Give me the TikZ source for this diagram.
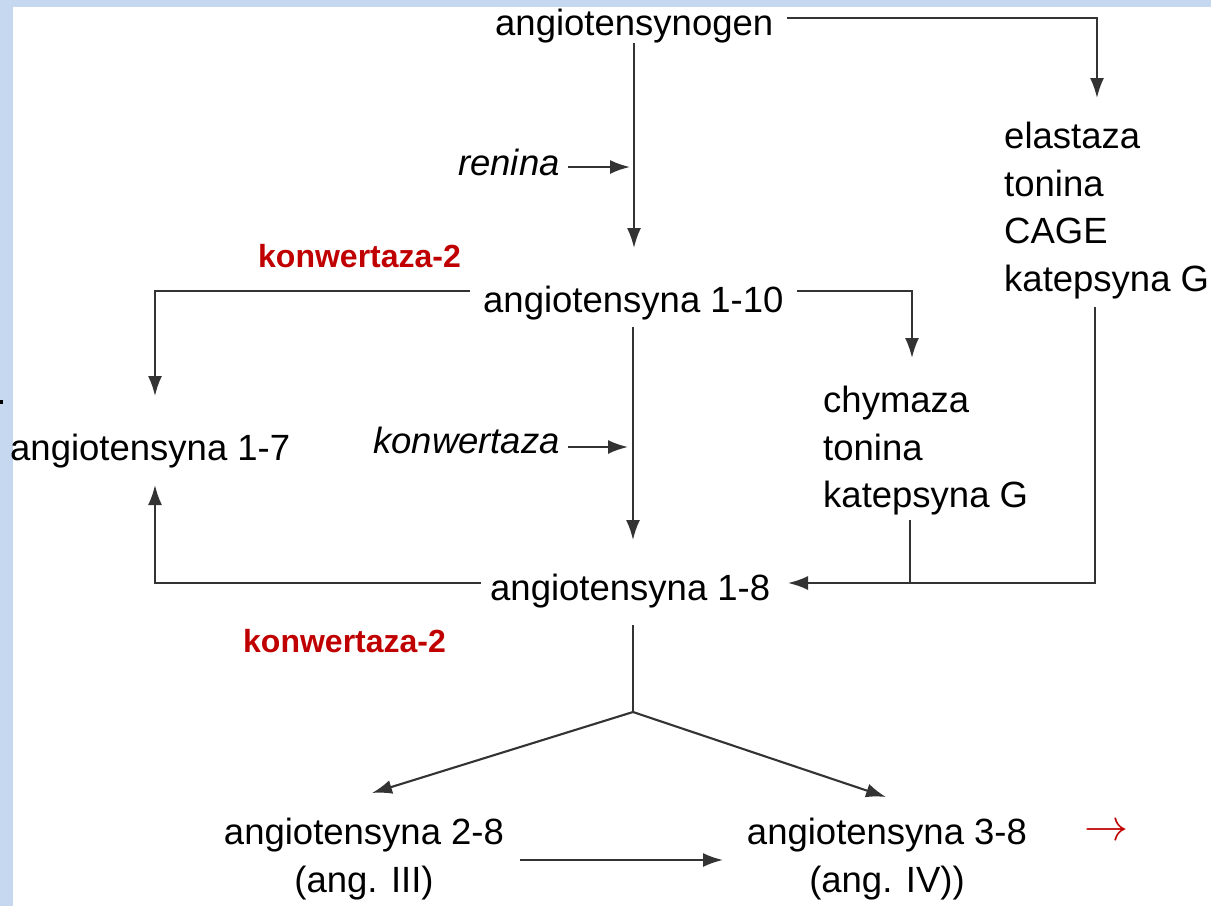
\documentclass[tikz,border=0pt]{standalone}
\usepackage{fontspec}
\setmainfont{Liberation Sans}
\usetikzlibrary{arrows.meta,positioning}
\definecolor{slideblue}{RGB}{198,216,240}
\definecolor{acered}{RGB}{192,0,0}

\begin{document}
\begin{tikzpicture}[x=1pt,y=-1pt,
    txt/.style={inner sep=0pt,anchor=base west,font=\fontsize{36.5}{47.5}\selectfont},
    enz/.style={txt,font=\fontsize{36.5}{47.5}\selectfont\itshape},
    lst/.style={txt,anchor=north west,align=left},
    ace/.style={inner sep=0pt,anchor=base west,text=acered,font=\fontsize{32}{38}\selectfont\bfseries},
    ln/.style={draw=black!80,line width=2.1pt},
    arr/.style={ln,-{Latex[length=20pt,width=14pt]}}]
  \useasboundingbox (0,0) rectangle (1211,906);
  % slide background
  \fill[slideblue] (0,0) rectangle (1211,906);
  \fill[white] (13,7) rectangle (1211,906);
  \fill[black] (0,400) rectangle (3,404);

  % substances
  \node[txt] (gen) at (495,35) {angiotensynogen};
  \node[txt] (a10) at (483,312) {angiotensyna 1-10};
  \node[txt] (a7) at (10,460) {angiotensyna 1-7};
  \node[txt] (a8) at (490,600) {angiotensyna 1-8};
  \node[txt,align=center,anchor=north] (a28) at (364,818) {angiotensyna 2-8\\(ang. III)};
  \node[txt,align=center,anchor=north] (a38) at (887,818) {angiotensyna 3-8\\(ang. IV))};

  % enzymes
  \node[enz] (ren) at (458,175) {renina};
  \node[enz] (ace1) at (373,453) {konwertaza};
  \node[ace] (aceA) at (258,267) {konwertaza-2};
  \node[ace] (aceB) at (243,652) {konwertaza-2};
  \node[lst] (elast) at (1004,122) {elastaza\\tonina\\CAGE\\katepsyna G};
  \node[lst] (chym) at (823,386) {chymaza\\tonina\\katepsyna G};
  \node[text=acered,scale=4.4] (more) at (1106,832) {$\rightarrow$};

  % corner points
  \coordinate (genR) at (787,18);
  \coordinate (elastTip) at (1097,98);
  \coordinate (elastB) at (1095,307);
  \coordinate (a8R) at (1095,583);
  \coordinate (a8tip) at (788,583);
  \coordinate (chymB) at (910,520);
  \coordinate (chymJ) at (910,583);
  \coordinate (a10L) at (470,291);
  \coordinate (a7top) at (155,396);
  \coordinate (a8L) at (481,583);
  \coordinate (a7bot) at (155,485);
  \coordinate (a10R) at (797,291);
  \coordinate (chymTip) at (912,358);
  \coordinate (split) at (633,712);

  % connectors
  \draw[arr] (genR) -| (elastTip);
  \draw[arr] (gen.south -| 634,52) -- (634,248);
  \draw[arr] (568,167) -- (630,167);
  \draw[arr] (a10L) -| (a7top);
  \draw[arr] (a10R) -| (chymTip);
  \draw[arr] (633,327) -- (633,540);
  \draw[arr] (568,447) -- (628,447);
  \draw[arr] (a8L) -| (a7bot);
  \draw[ln] (chymB) -- (chymJ);
  \draw[arr] (elastB) -- (a8R) -- (a8tip);
  \draw[ln] (633,625) -- (split);
  \draw[arr] (split) -- (372,793);
  \draw[arr] (split) -- (886,797);
  \draw[arr] (520,860) -- (723,860);
\end{tikzpicture}
\end{document}
